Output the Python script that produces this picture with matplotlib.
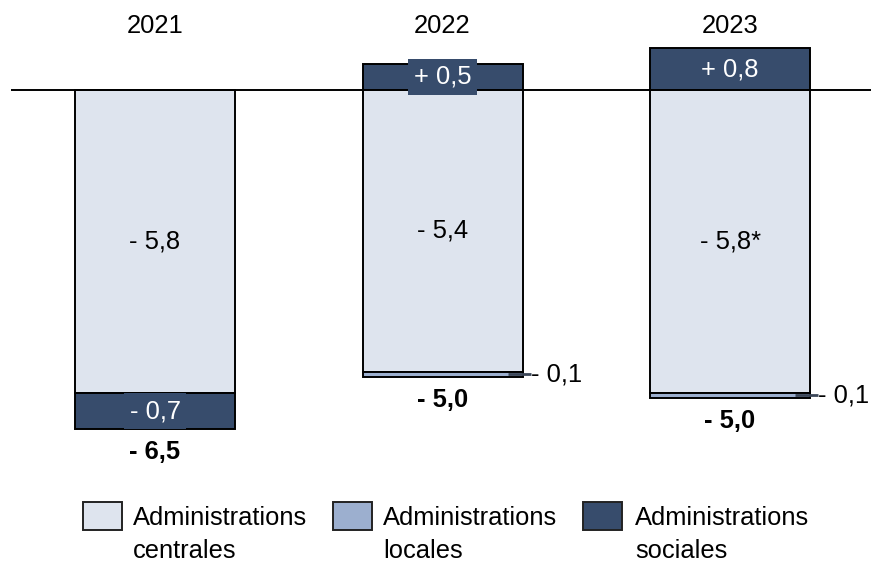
import matplotlib
matplotlib.use("Agg")
import matplotlib.pyplot as plt
from matplotlib.patches import Rectangle

plt.rcParams['font.family'] = ['Liberation Sans', 'DejaVu Sans']

# Data: public balance contributions by sub-sector (points of GDP)
years = ["2021", "2022", "2023"]
centrales = [-5.8, -5.4, -5.8]
locales = [0.0, -0.1, -0.1]
sociales = [-0.7, 0.5, 0.8]
totals = [-6.5, -5.0, -5.0]
centrales_notes = ["", "", "*"]
series_names = ["Administrations\ncentrales",
                "Administrations\nlocales",
                "Administrations\nsociales"]

c_central = "#DEE4EE"
c_local = "#9CAFCF"
c_social = "#374C6C"
c_colors = [c_central, c_local, c_social]

W, H = 871, 563
fig = plt.figure(figsize=(W / 100, H / 100), dpi=100)
ax = fig.add_axes([0, 0, 1, 1])
ax.set_axis_off()

# scale: pixels per unit
px_x = 287.5
px_y = 52.2
x0_px, y0_px = 155, 90
ax.set_xlim(-x0_px / px_x, (W - x0_px) / px_x)
ax.set_ylim(-(H - y0_px) / px_y, y0_px / px_y)

FS = 18.4
bar_w = 160 / px_x
lw = 1.4


def fmt(v, note=""):
    sign = "+ " if v > 0 else "- "
    return sign + f"{abs(v):.1f}".replace(".", ",") + note


x = list(range(len(years)))
for i in x:
    c = centrales[i]
    l = locales[i]
    s = sociales[i]
    # central segment
    ax.bar(i, c, bottom=0, width=bar_w, color=c_central, edgecolor="black",
           linewidth=lw, zorder=2)
    bottom = c
    if l != 0:
        ax.bar(i, l, bottom=bottom, width=bar_w, color=c_local,
               edgecolor="black", linewidth=lw, zorder=2)
        yl = bottom + l / 2
        right = i + bar_w / 2
        ax.plot([right - 15 / px_x, right + 8 / px_x], [yl, yl],
                color="#3b4658", lw=2, zorder=3, solid_capstyle="butt")
        ax.text(right + 8 / px_x, yl, fmt(l), ha="left", va="center",
                fontsize=FS, color="black", zorder=4)
        bottom = bottom + l
    if s < 0:
        ax.bar(i, s, bottom=bottom, width=bar_w, color=c_social,
               edgecolor="black", linewidth=lw, zorder=2)
        ys = bottom + s / 2
        bottom = bottom + s
    else:
        ax.bar(i, s, bottom=0, width=bar_w, color=c_social,
               edgecolor="black", linewidth=lw, zorder=2)
        ys = s / 2
    ax.text(i, ys, fmt(s), ha="center", va="center", fontsize=FS,
            color="white", zorder=5,
            bbox=dict(boxstyle="square,pad=0.22", fc=c_social, ec="none"))
    # central label
    ax.text(i, c / 2, fmt(c, centrales_notes[i]), ha="center", va="center",
            fontsize=FS, color="black", zorder=4)
    # total below the bar
    ax.text(i, bottom - 23 / px_y, fmt(totals[i]), ha="center", va="center",
            fontsize=FS, fontweight="bold", color="black", zorder=4)
    # year header
    ax.text(i, (y0_px - 33) / px_y, years[i], ha="center", va="baseline",
            fontsize=FS, color="black")

# zero line
ax.plot([-(x0_px - 11) / px_x, (W - x0_px) / px_x], [0, 0], color="black",
        lw=lw, zorder=2.5, solid_capstyle="butt")

# legend drawn in figure pixel coordinates
patch_x = [83, 333, 583]
text_x = [133, 383, 635]
for px, tx, name, col in zip(patch_x, text_x, series_names, c_colors):
    fig.patches.append(Rectangle((px / W, 1 - 530 / H), 39 / W, 28 / H,
                                 transform=fig.transFigure, fc=col,
                                 ec="#222222", lw=1.4))
    l1, l2 = name.split("\n")
    fig.text(tx / W, 1 - 525 / H, l1, ha="left", va="baseline", fontsize=FS)
    fig.text(tx / W, 1 - 558 / H, l2, ha="left", va="baseline", fontsize=FS)

fig.savefig("out.png", dpi=100)
